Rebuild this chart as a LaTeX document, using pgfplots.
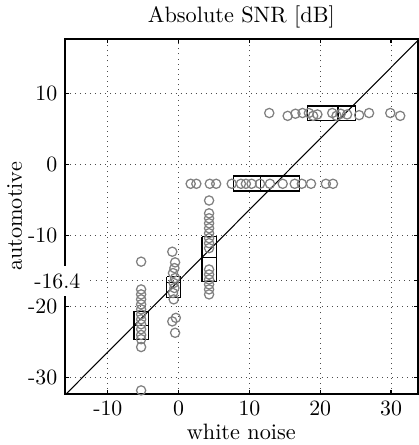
\documentclass[border=0pt]{standalone}
\usepackage{pgfplots}
\pgfplotsset{compat=1.18}
\begin{document}
\begin{tikzpicture}
\begin{axis}[
  name=ax,
  scale only axis,
  width=168.2pt, height=169pt,
  xmin=-16.1, xmax=33.8, ymin=-32.3, ymax=17.6,
  axis line style={line width=0.9pt},
  xtick={-10,10,20,30}, xticklabels={-10,10,20,30},
  ytick={-30,-20,-10,0,10}, yticklabels={-30,-20,-10,0,10},
  extra x ticks={0}, extra x tick labels={0},
  extra y ticks={-16.4}, extra y tick labels={},
  extra x tick style={grid style={densely dotted, black!75, line width=0.45pt}},
  extra y tick style={grid style={densely dotted, black!75, line width=0.45pt}},
  tick align=inside, major tick length=2pt,
  tick style={black, line width=0.5pt},
  xtick pos=both, ytick pos=both,
  grid=major,
  major grid style={dotted, black!70, line width=0.4pt},
  tick label style={font=\fontsize{10.4}{12}\selectfont},
  label style={font=\fontsize{10.6}{12}\selectfont},
  title={Absolute SNR [dB]},
  title style={at={(0.5,1)}, anchor=south, yshift=-4.2pt, font=\fontsize{10.6}{12}\selectfont},
  xlabel={white noise}, ylabel={automotive},
  xlabel style={yshift=3pt},
  ylabel style={yshift=-4pt},
  clip=true,
]
% diagonal
\addplot[black, line width=0.5pt] coordinates {(-20,-36.4) (40,23.6)};
% points
\addplot[only marks, mark=o, mark size=2.2pt, gray, mark options={line width=0.6pt}] coordinates {
(-5.3,-13.7) (-5.3,-17.6) (-5.3,-18.3) (-5.3,-19.0) (-5.3,-19.7) (-5.3,-20.4) (-5.3,-21.1)
(-5.3,-21.8) (-5.3,-22.5) (-5.3,-23.2) (-5.3,-24.0) (-5.3,-24.6) (-5.3,-25.7) (-5.3,-31.8)
};
\addplot[only marks, mark=o, mark size=2.2pt, gray, mark options={line width=0.6pt}] coordinates {
(-0.9,-12.3) (-0.5,-13.8) (-0.6,-14.6) (-0.8,-15.3) (-0.5,-16.0) (-0.7,-16.7) (-0.6,-17.4)
(-0.8,-18.1) (-0.7,-19.0) (-0.4,-21.6) (-0.9,-22.1) (-0.5,-23.7)
};
\addplot[only marks, mark=o, mark size=2.2pt, gray, mark options={line width=0.6pt}] coordinates {
(4.3,-5.1) (4.3,-6.9) (4.3,-7.6) (4.3,-8.3) (4.3,-9.0) (4.3,-9.7) (4.3,-10.4) (4.3,-11.1)
(4.3,-11.8) (4.3,-14.8) (4.3,-15.5) (4.3,-16.2) (4.3,-16.9) (4.3,-17.6) (4.3,-18.3)
};
\addplot[only marks, mark=o, mark size=2.2pt, gray, mark options={line width=0.6pt}] coordinates {
(1.7,-2.75) (2.5,-2.75) (4.4,-2.75) (5.3,-2.75) (7.5,-2.75) (8.8,-2.75) (9.5,-2.75) (10.3,-2.75)
(11.5,-2.75) (12.9,-2.75) (14.7,-2.75) (16.4,-2.75) (17.4,-2.75) (18.7,-2.75) (20.8,-2.75) (21.8,-2.75)
};
\addplot[only marks, mark=o, mark size=2.2pt, gray, mark options={line width=0.6pt}] coordinates {
(12.8,7.2) (15.4,6.8) (16.5,7.1) (17.5,7.2) (18.4,7.2) (19.0,6.8) (19.6,7.0) (21.7,7.2)
(22.3,6.8) (22.9,7.1) (23.8,7.0) (25.5,6.9) (26.9,7.2) (29.9,7.2) (31.3,6.8)
};
% boxes
\addplot[black, line width=0.6pt] coordinates {(-6.3,-20.7) (-4.3,-20.7) (-4.3,-24.6) (-6.3,-24.6) (-6.3,-20.7)};
\addplot[black, line width=0.6pt] coordinates {(-6.3,-22.7) (-4.3,-22.7)};
\addplot[black, line width=0.6pt] coordinates {(-1.7,-15.8) (0.25,-15.8) (0.25,-18.7) (-1.7,-18.7) (-1.7,-15.8)};
\addplot[black, line width=0.6pt] coordinates {(-1.7,-16.6) (0.25,-16.6)};
\addplot[black, line width=0.6pt] coordinates {(3.3,-10.2) (5.3,-10.2) (5.3,-16.5) (3.3,-16.5) (3.3,-10.2)};
\addplot[black, line width=0.6pt] coordinates {(3.3,-13.1) (5.3,-13.1)};
\addplot[black, line width=0.6pt] coordinates {(7.7,-1.65) (17.1,-1.65) (17.1,-3.75) (7.7,-3.75) (7.7,-1.65)};
\addplot[black, line width=0.6pt] coordinates {(11.6,-1.65) (11.6,-3.75)};
\addplot[black, line width=0.6pt] coordinates {(18.2,8.2) (25.0,8.2) (25.0,6.2) (18.2,6.2) (18.2,8.2)};
\addplot[black, line width=0.6pt] coordinates {(22.5,8.2) (22.5,6.2)};
\end{axis}
\node[anchor=east, fill=white, font=\fontsize{10.4}{12}\selectfont] at ([shift={(11pt,53.85pt)}]ax.south west) {-16.4};
\pgfresetboundingbox
\path (ax.south west) ++(-30.8pt,-24.3pt) coordinate (bbl);
\path (ax.north east) ++(0.24pt,18.6pt) coordinate (btr);
\path[use as bounding box] (bbl) rectangle (btr);
\end{tikzpicture}
\end{document}
